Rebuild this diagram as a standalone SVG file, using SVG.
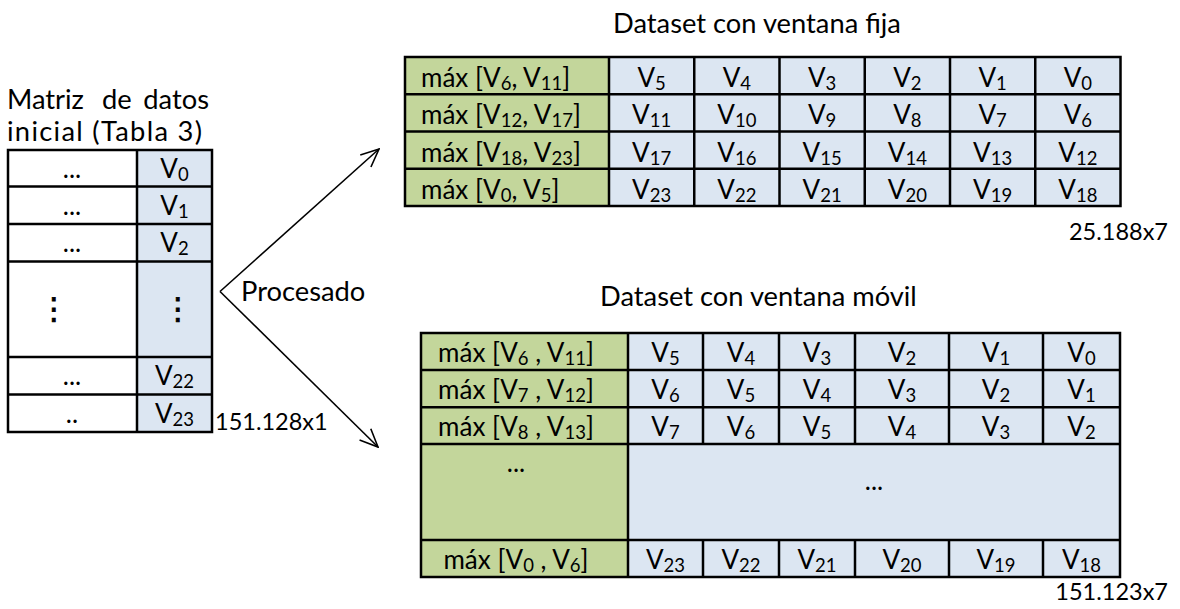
<svg xmlns="http://www.w3.org/2000/svg" width="1180" height="609" viewBox="0 0 1180 609">
  <style>
    .t { font-family: Lato, "Liberation Sans", sans-serif; font-size: 26px; fill: #000; }
    .c { text-anchor: middle; }
    .sb { font-size: 18.5px; }
    .lbl { font-family: Lato, "Liberation Sans", sans-serif; font-size: 27.3px; fill: #000; }
    .num { font-family: Lato, "Liberation Sans", sans-serif; font-size: 23.5px; fill: #000; }
    .grid { stroke: #000; stroke-width: 2.5; fill: none; }
    .g { fill: #C3D69B; }
    .b { fill: #DCE6F2; }
    .w { fill: #FFFFFF; }
    .vd { font-family: "DejaVu Sans", sans-serif; font-size: 30px; text-anchor: middle; fill: #000; stroke: #000; stroke-width: 0.8; }
    .conn { stroke: #000; stroke-width: 1.6; fill: none; marker-end: url(#open); }
  </style>
  <defs>
    <marker id="open" viewBox="0 0 20 18" refX="19" refY="9" markerWidth="20" markerHeight="18" markerUnits="userSpaceOnUse" orient="auto">
      <path d="M1,1 L19,9 L1,17" fill="none" stroke="#000" stroke-width="1.6"/>
    </marker>
  </defs>

  <rect width="1180" height="609" fill="#FFFFFF"/>

  <!-- labels -->
  <g id="label-matriz" class="lbl">
    <text y="109"><tspan x="7">Matriz</tspan><tspan x="102">de</tspan><tspan x="209" text-anchor="end">datos</tspan></text>
    <text x="7" y="141" textLength="195" lengthAdjust="spacing">inicial (Tabla 3)</text>
  </g>
  <text id="label-fija" class="lbl" x="613" y="33">Dataset con ventana fija</text>
  <text id="label-movil" class="lbl" x="600" y="306">Dataset con ventana móvil</text>
  <text id="label-procesado" class="lbl" x="241" y="301">Procesado</text>
  <text id="size-inicial" class="num" x="215" y="430">151.128x1</text>
  <text id="size-fija" class="num" x="1168" y="240" text-anchor="end">25.188x7</text>
  <text id="size-movil" class="num" x="1168" y="600" text-anchor="end">151.123x7</text>

  <!-- initial data matrix -->
  <g id="tabla-inicial">
    <rect class="w" x="8" y="150" width="129" height="282"/>
    <rect class="b" x="137" y="150" width="75" height="282"/>
    <g class="grid">
      <rect x="8" y="150" width="204" height="282"/>
      <line x1="137" y1="150" x2="137" y2="432"/>
      <line x1="8" y1="186.5" x2="212" y2="186.5"/>
      <line x1="8" y1="224" x2="212" y2="224"/>
      <line x1="8" y1="261.5" x2="212" y2="261.5"/>
      <line x1="8" y1="357" x2="212" y2="357"/>
      <line x1="8" y1="394.5" x2="212" y2="394.5"/>
    </g>
    <g class="t c">
      <text x="72" y="178">...</text>
      <text x="72" y="215">...</text>
      <text x="72" y="252">...</text>
      <text x="72" y="385">...</text>
      <text x="72" y="423">..</text>
      <text x="174.5" y="178">V<tspan class="sb" dy="3">0</tspan></text>
      <text x="174.5" y="215">V<tspan class="sb" dy="3">1</tspan></text>
      <text x="174.5" y="252">V<tspan class="sb" dy="3">2</tspan></text>
      <text x="174.5" y="385">V<tspan class="sb" dy="3">22</tspan></text>
      <text x="174.5" y="423">V<tspan class="sb" dy="3">23</tspan></text>
    </g>
    <text class="vd" x="54" y="319">⋮</text>
    <text class="vd" x="178" y="319">⋮</text>
  </g>

  <!-- fixed-window dataset -->
  <g id="tabla-fija">
    <rect class="g" x="405" y="57" width="204" height="149"/>
    <rect class="b" x="609" y="57" width="511.5" height="149"/>
    <g class="grid">
      <rect x="405" y="57" width="715.5" height="149"/>
      <line x1="609" y1="57" x2="609" y2="206"/>
      <line x1="694.25" y1="57" x2="694.25" y2="206"/>
      <line x1="779.5" y1="57" x2="779.5" y2="206"/>
      <line x1="864.75" y1="57" x2="864.75" y2="206"/>
      <line x1="950" y1="57" x2="950" y2="206"/>
      <line x1="1035.25" y1="57" x2="1035.25" y2="206"/>
      <line x1="405" y1="94.25" x2="1120.5" y2="94.25"/>
      <line x1="405" y1="131.5" x2="1120.5" y2="131.5"/>
      <line x1="405" y1="168.75" x2="1120.5" y2="168.75"/>
    </g>
    <g class="t">
      <text x="421" y="87">máx [V<tspan class="sb" dy="3">6</tspan><tspan dy="-3">, V</tspan><tspan class="sb" dy="3">11</tspan><tspan dy="-3">]</tspan></text>
      <text x="421" y="124.3">máx [V<tspan class="sb" dy="3">12</tspan><tspan dy="-3">, V</tspan><tspan class="sb" dy="3">17</tspan><tspan dy="-3">]</tspan></text>
      <text x="421" y="161.5">máx [V<tspan class="sb" dy="3">18</tspan><tspan dy="-3">, V</tspan><tspan class="sb" dy="3">23</tspan><tspan dy="-3">]</tspan></text>
      <text x="421" y="198.8">máx [V<tspan class="sb" dy="3">0</tspan><tspan dy="-3">, V</tspan><tspan class="sb" dy="3">5</tspan><tspan dy="-3">]</tspan></text>
    </g>
    <g class="t c">
      <text x="651.6" y="87">V<tspan class="sb" dy="3">5</tspan></text>
      <text x="736.9" y="87">V<tspan class="sb" dy="3">4</tspan></text>
      <text x="822.1" y="87">V<tspan class="sb" dy="3">3</tspan></text>
      <text x="907.4" y="87">V<tspan class="sb" dy="3">2</tspan></text>
      <text x="992.6" y="87">V<tspan class="sb" dy="3">1</tspan></text>
      <text x="1077.9" y="87">V<tspan class="sb" dy="3">0</tspan></text>

      <text x="651.6" y="124.3">V<tspan class="sb" dy="3">11</tspan></text>
      <text x="736.9" y="124.3">V<tspan class="sb" dy="3">10</tspan></text>
      <text x="822.1" y="124.3">V<tspan class="sb" dy="3">9</tspan></text>
      <text x="907.4" y="124.3">V<tspan class="sb" dy="3">8</tspan></text>
      <text x="992.6" y="124.3">V<tspan class="sb" dy="3">7</tspan></text>
      <text x="1077.9" y="124.3">V<tspan class="sb" dy="3">6</tspan></text>

      <text x="651.6" y="161.5">V<tspan class="sb" dy="3">17</tspan></text>
      <text x="736.9" y="161.5">V<tspan class="sb" dy="3">16</tspan></text>
      <text x="822.1" y="161.5">V<tspan class="sb" dy="3">15</tspan></text>
      <text x="907.4" y="161.5">V<tspan class="sb" dy="3">14</tspan></text>
      <text x="992.6" y="161.5">V<tspan class="sb" dy="3">13</tspan></text>
      <text x="1077.9" y="161.5">V<tspan class="sb" dy="3">12</tspan></text>

      <text x="651.6" y="198.8">V<tspan class="sb" dy="3">23</tspan></text>
      <text x="736.9" y="198.8">V<tspan class="sb" dy="3">22</tspan></text>
      <text x="822.1" y="198.8">V<tspan class="sb" dy="3">21</tspan></text>
      <text x="907.4" y="198.8">V<tspan class="sb" dy="3">20</tspan></text>
      <text x="992.6" y="198.8">V<tspan class="sb" dy="3">19</tspan></text>
      <text x="1077.9" y="198.8">V<tspan class="sb" dy="3">18</tspan></text>
    </g>
  </g>

  <!-- sliding-window dataset -->
  <g id="tabla-movil">
    <rect class="g" x="421" y="333" width="207" height="244"/>
    <rect class="b" x="628" y="333" width="492" height="244"/>
    <g class="grid">
      <rect x="421" y="333" width="699" height="244"/>
      <line x1="628" y1="333" x2="628" y2="577"/>
      <line x1="703" y1="333" x2="703" y2="444"/>
      <line x1="779" y1="333" x2="779" y2="444"/>
      <line x1="855" y1="333" x2="855" y2="444"/>
      <line x1="949" y1="333" x2="949" y2="444"/>
      <line x1="1043" y1="333" x2="1043" y2="444"/>
      <line x1="703" y1="540" x2="703" y2="577"/>
      <line x1="779" y1="540" x2="779" y2="577"/>
      <line x1="855" y1="540" x2="855" y2="577"/>
      <line x1="949" y1="540" x2="949" y2="577"/>
      <line x1="1043" y1="540" x2="1043" y2="577"/>
      <line x1="421" y1="370" x2="1120" y2="370"/>
      <line x1="421" y1="407.3" x2="1120" y2="407.3"/>
      <line x1="421" y1="444" x2="1120" y2="444"/>
      <line x1="421" y1="540" x2="1120" y2="540"/>
    </g>
    <g class="t c">
      <text x="516" y="362">máx [V<tspan class="sb" dy="3">6</tspan><tspan dy="-3"> , V</tspan><tspan class="sb" dy="3">11</tspan><tspan dy="-3">]</tspan></text>
      <text x="516" y="399">máx [V<tspan class="sb" dy="3">7</tspan><tspan dy="-3"> , V</tspan><tspan class="sb" dy="3">12</tspan><tspan dy="-3">]</tspan></text>
      <text x="516" y="436">máx [V<tspan class="sb" dy="3">8</tspan><tspan dy="-3"> , V</tspan><tspan class="sb" dy="3">13</tspan><tspan dy="-3">]</tspan></text>
      <text x="516" y="472">...</text>
      <text x="516" y="569">máx [V<tspan class="sb" dy="3">0</tspan><tspan dy="-3"> , V</tspan><tspan class="sb" dy="3">6</tspan><tspan dy="-3">]</tspan></text>

      <text x="665.5" y="362">V<tspan class="sb" dy="3">5</tspan></text>
      <text x="741" y="362">V<tspan class="sb" dy="3">4</tspan></text>
      <text x="817" y="362">V<tspan class="sb" dy="3">3</tspan></text>
      <text x="902" y="362">V<tspan class="sb" dy="3">2</tspan></text>
      <text x="996" y="362">V<tspan class="sb" dy="3">1</tspan></text>
      <text x="1081.5" y="362">V<tspan class="sb" dy="3">0</tspan></text>

      <text x="665.5" y="399">V<tspan class="sb" dy="3">6</tspan></text>
      <text x="741" y="399">V<tspan class="sb" dy="3">5</tspan></text>
      <text x="817" y="399">V<tspan class="sb" dy="3">4</tspan></text>
      <text x="902" y="399">V<tspan class="sb" dy="3">3</tspan></text>
      <text x="996" y="399">V<tspan class="sb" dy="3">2</tspan></text>
      <text x="1081.5" y="399">V<tspan class="sb" dy="3">1</tspan></text>

      <text x="665.5" y="436">V<tspan class="sb" dy="3">7</tspan></text>
      <text x="741" y="436">V<tspan class="sb" dy="3">6</tspan></text>
      <text x="817" y="436">V<tspan class="sb" dy="3">5</tspan></text>
      <text x="902" y="436">V<tspan class="sb" dy="3">4</tspan></text>
      <text x="996" y="436">V<tspan class="sb" dy="3">3</tspan></text>
      <text x="1081.5" y="436">V<tspan class="sb" dy="3">2</tspan></text>

      <text x="874" y="490">...</text>

      <text x="665.5" y="569">V<tspan class="sb" dy="3">23</tspan></text>
      <text x="741" y="569">V<tspan class="sb" dy="3">22</tspan></text>
      <text x="817" y="569">V<tspan class="sb" dy="3">21</tspan></text>
      <text x="902" y="569">V<tspan class="sb" dy="3">20</tspan></text>
      <text x="996" y="569">V<tspan class="sb" dy="3">19</tspan></text>
      <text x="1081.5" y="569">V<tspan class="sb" dy="3">18</tspan></text>
    </g>
  </g>

  <!-- processing arrows -->
  <g id="connectors">
    <path class="conn" d="M220,291.5 L379,149"/>
    <path class="conn" d="M220,291.5 L378,447"/>
  </g>
</svg>
